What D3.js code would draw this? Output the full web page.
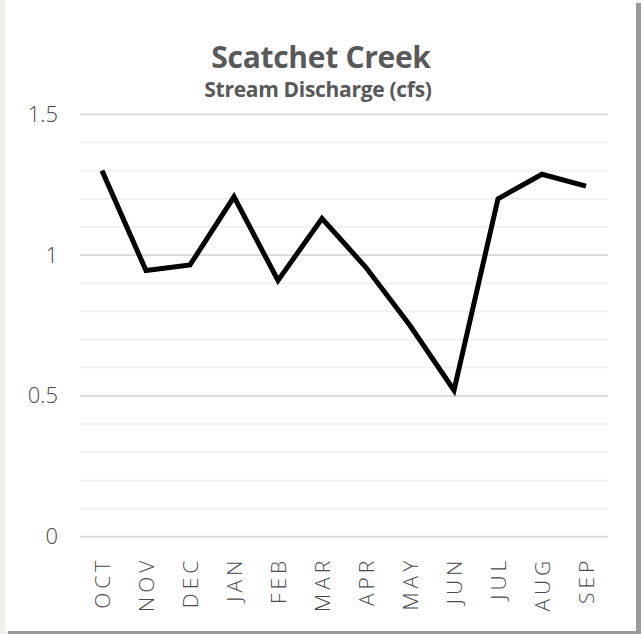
<!DOCTYPE html>
<html>
<head>
<meta charset="utf-8">
<script src="https://cdn.jsdelivr.net/npm/d3@7"></script>
<style>
  html, body { margin: 0; padding: 0; background: #f2f0ea; }
  svg { display: block; }
  .axis text { font-family: "Open Sans", Lato, sans-serif; font-weight: 300; fill: #4a4a4a; }
</style>
</head>
<body>
<svg class="view" width="641" height="634"></svg>
<script>
var months = ['OCT', 'NOV', 'DEC', 'JAN', 'FEB', 'MAR', 'APR', 'MAY', 'JUN', 'JUL', 'AUG', 'SEP'];
var discharge = [1.30, 0.945, 0.965, 1.207, 0.91, 1.13, 0.956, 0.75, 0.52, 1.20, 1.287, 1.245];
var yLabels = [0, 0.5, 1, 1.5];

var svg = d3.select('.view'),
    width = +svg.attr('width'),
    height = +svg.attr('height');

// card with a little shadow on the right and bottom
svg.append('rect')
    .attr('x', 8).attr('y', 3)
    .attr('width', 633).attr('height', 631)
    .attr('fill', '#9a9a9a');
svg.append('rect')
    .attr('x', 5).attr('y', 0)
    .attr('width', 631).attr('height', 631)
    .attr('fill', '#fff');

var x = d3.scalePoint()
    .domain(months)
    .range([80, 608])
    .padding(0.5);

var y = d3.scaleLinear()
    .domain([0, 1.5])
    .range([536.7, 114.3]);

// gridlines, light every 0.1, darker every 0.5
svg.append('g')
    .selectAll('line')
    .data(y.ticks(15))
    .enter().append('line')
    .attr('x1', 80)
    .attr('x2', 608)
    .attr('y1', function (d) { return y(d); })
    .attr('y2', function (d) { return y(d); })
    .attr('stroke', function (d) {
        return Math.abs(d * 2 - Math.round(d * 2)) < 1e-6 ? '#d9d9d9' : '#efefef';
    })
    .attr('stroke-width', 1.75);

var yAxis = svg.append('g')
    .attr('class', 'axis')
    .attr('transform', 'translate(80,0)')
    .call(d3.axisLeft(y).tickValues(yLabels).tickSize(0).tickPadding(22)
        .tickFormat(function (d) { return String(d); }));
yAxis.select('.domain').remove();
yAxis.selectAll('text').style('font-size', '22px');

var xAxis = svg.append('g')
    .attr('class', 'axis')
    .attr('transform', 'translate(0,' + y(0) + ')')
    .call(d3.axisBottom(x).tickSize(0));
xAxis.select('.domain').remove();
xAxis.selectAll('text')
    .style('font-size', '21px')
    .style('letter-spacing', '4px')
    .attr('transform', 'rotate(-90)')
    .attr('text-anchor', 'end')
    .attr('x', -20)
    .attr('y', 0)
    .attr('dy', '0.35em');

var line = d3.line()
    .x(function (d, i) { return x(months[i]); })
    .y(function (d) { return y(d); });

svg.append('path')
    .datum(discharge)
    .attr('fill', 'none')
    .attr('stroke', '#000')
    .attr('stroke-width', 5)
    .attr('d', line);

svg.append('text')
    .attr('x', 321)
    .attr('y', 68)
    .attr('text-anchor', 'middle')
    .style('font-family', '"Open Sans", sans-serif')
    .style('font-weight', 700)
    .style('font-size', '30px')
    .style('letter-spacing', '-0.3px')
    .style('fill', '#595959')
    .text('Scatchet Creek');

svg.append('text')
    .attr('x', 318)
    .attr('y', 97)
    .attr('text-anchor', 'middle')
    .style('font-family', '"Open Sans", sans-serif')
    .style('font-weight', 700)
    .style('font-size', '21px')
    .style('letter-spacing', '-0.3px')
    .style('fill', '#595959')
    .text('Stream Discharge (cfs)');
</script>
</body>
</html>
